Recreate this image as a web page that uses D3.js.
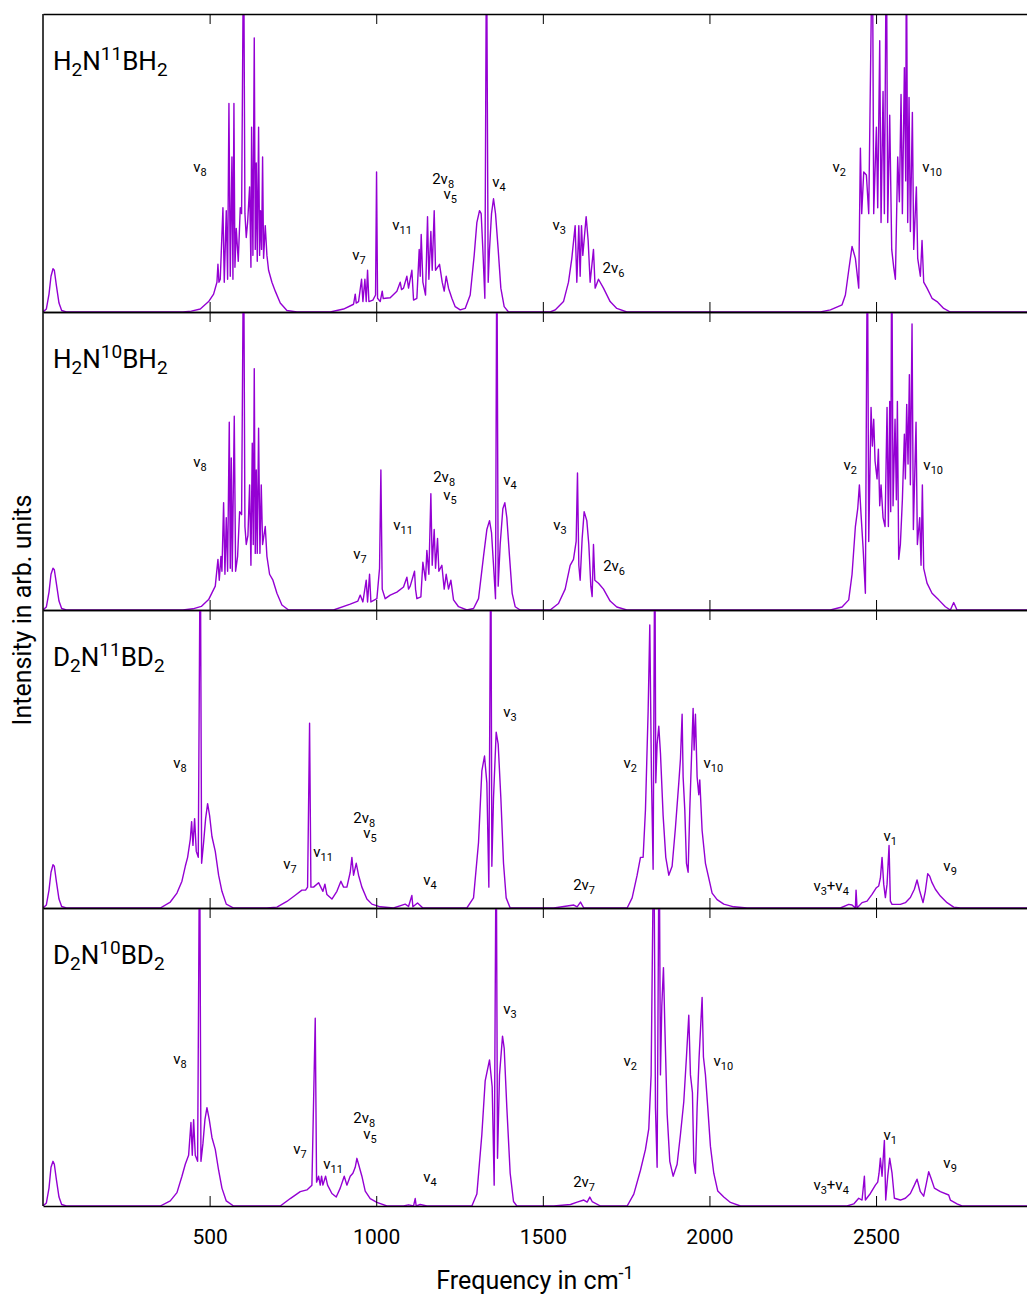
<!DOCTYPE html>
<html>
<head>
<meta charset="utf-8">
<script src="https://cdn.jsdelivr.net/npm/d3@7"></script>
<style>
  body { margin: 0; background: #fff; }
  svg { display: block; }
  text { font-family: Roboto, "DejaVu Sans", sans-serif; fill: #000; }
</style>
</head>
<body>
<svg id="chart" width="1027" height="1295"></svg>
<script>
// ---- data (frequency in cm^-1, intensity in arb. units, 1 = panel top) ----

const freqRange = [0, 2953];
const tickValues = [500, 1000, 1500, 2000, 2500];
const panelNames = ['H_2N^11BH_2', 'H_2N^10BH_2', 'D_2N^11BD_2', 'D_2N^10BD_2'];

const specH2N11BH2 = [
  [0,0],[10,0.01],[18,0.06],[24,0.12],[30,0.145],[34,0.14],[40,0.09],[48,0.03],[56,0.005],[70,0],
  [420,0],[445,0.003],[472,0.01],[497,0.035],[512,0.06],[522,0.10],[525,0.16],[528,0.10],[532,0.11],[540,0.35],
  [544,0.10],[550,0.34],[554,0.11],[558,0.70],[562,0.12],[567,0.52],[570,0.11],[573,0.70],[576,0.15],[580,0.28],
  [586,0.17],[592,0.35],[596,0.33],[602,1.3],[606,0.33],[610,0.25],[614,0.30],[620,0.42],[624,0.15],[626,0.62],
  [630,0.19],[634,0.92],[637,0.21],[640,0.50],[643,0.17],[647,0.62],[650,0.19],[653,0.34],[656,0.21],[659,0.52],
  [662,0.18],[667,0.29],[672,0.19],[677,0.14],[687,0.10],[697,0.07],[712,0.03],[732,0.005],[762,0],
  [862,0],[902,0.01],[932,0.026],[937,0.06],[940,0.03],[947,0.035],[956,0.11],[960,0.035],[966,0.11],[970,0.035],
  [974,0.14],[978,0.035],[990,0.04],[998,0.057],[1001,0.47],[1004,0.046],[1012,0.035],[1018,0.07],[1021,0.045],
  [1027,0.046],[1042,0.048],[1062,0.07],[1072,0.10],[1076,0.075],[1082,0.08],[1092,0.12],[1097,0.08],[1107,0.14],
  [1112,0.04],[1122,0.046],[1129,0.21],[1132,0.12],[1135,0.26],[1140,0.10],[1148,0.057],[1154,0.32],[1158,0.11],
  [1164,0.27],[1168,0.14],[1174,0.34],[1178,0.14],[1184,0.15],[1190,0.16],[1198,0.10],[1204,0.07],[1210,0.12],
  [1217,0.08],[1227,0.046],[1237,0.018],[1252,0.007],[1267,0.012],[1282,0.057],[1294,0.19],[1302,0.30],[1310,0.34],
  [1315,0.33],[1320,0.21],[1326,0.046],[1331,1.3],[1336,0.10],[1340,0.21],[1346,0.33],[1352,0.38],[1358,0.33],
  [1366,0.21],[1374,0.08],[1384,0.018],[1397,0],
  [1522,0],[1537,0.007],[1562,0.035],[1577,0.10],[1587,0.18],[1597,0.29],[1602,0.10],[1608,0.29],[1612,0.12],
  [1616,0.29],[1620,0.19],[1630,0.32],[1636,0.24],[1642,0.10],[1652,0.21],[1657,0.08],[1667,0.11],[1682,0.08],
  [1702,0.035],[1722,0.012],[1752,0],
  [2333,0],[2363,0.007],[2398,0.024],[2408,0.057],[2418,0.14],[2428,0.22],[2438,0.18],[2448,0.08],[2453,0.55],
  [2457,0.33],[2463,0.47],[2471,0.46],[2478,0.33],[2489,1.3],[2493,0.33],[2501,0.62],[2505,0.35],[2511,0.91],
  [2515,0.30],[2521,0.74],[2525,0.33],[2531,1.3],[2535,0.30],[2541,0.66],[2547,0.21],[2553,0.15],[2558,0.11],
  [2565,0.52],[2570,0.37],[2575,0.73],[2579,0.33],[2585,0.82],[2589,0.44],[2591,1.3],[2595,0.30],[2599,0.72],
  [2603,0.27],[2609,0.67],[2613,0.21],[2621,0.42],[2625,0.18],[2633,0.12],[2638,0.24],[2643,0.10],[2653,0.08],
  [2668,0.046],[2683,0.035],[2703,0.012],[2723,0],[2953,0]
];

const specH2N10BH2 = [
  [0,0],[10,0.01],[18,0.06],[24,0.12],[30,0.14],[34,0.135],[40,0.09],[48,0.03],[56,0.005],[70,0],
  [420,0],[450,0.004],[475,0.012],[497,0.035],[517,0.08],[525,0.17],[529,0.10],[534,0.18],[537,0.13],[542,0.36],
  [546,0.12],[550,0.31],[554,0.13],[559,0.63],[562,0.14],[565,0.51],[568,0.13],[574,0.65],[578,0.13],[584,0.18],
  [590,0.33],[596,0.32],[602,1.3],[606,0.28],[610,0.22],[615,0.25],[620,0.42],[624,0.15],[628,0.56],[631,0.22],
  [634,0.81],[637,0.19],[640,0.47],[643,0.19],[647,0.61],[651,0.19],[655,0.42],[659,0.22],[667,0.28],[672,0.18],
  [680,0.12],[690,0.10],[702,0.056],[717,0.017],[737,0],
  [872,0],[922,0.02],[945,0.03],[952,0.05],[960,0.027],[970,0.10],[974,0.027],[980,0.12],[984,0.027],[1002,0.038],
  [1010,0.14],[1014,0.47],[1018,0.07],[1027,0.038],[1042,0.05],[1062,0.06],[1082,0.077],[1092,0.11],[1097,0.07],
  [1102,0.08],[1115,0.13],[1118,0.07],[1122,0.038],[1134,0.044],[1140,0.16],[1148,0.10],[1152,0.20],[1158,0.12],
  [1164,0.39],[1168,0.15],[1174,0.27],[1178,0.14],[1184,0.24],[1188,0.13],[1197,0.15],[1204,0.07],[1210,0.12],
  [1217,0.07],[1224,0.10],[1232,0.034],[1247,0.011],[1272,0],
  [1292,0.005],[1307,0.038],[1322,0.18],[1332,0.27],[1340,0.30],[1346,0.26],[1352,0.15],[1358,0.038],[1362,1.3],
  [1366,0.08],[1372,0.22],[1380,0.34],[1386,0.36],[1392,0.31],[1400,0.18],[1408,0.056],[1417,0.011],[1432,0],
  [1522,0],[1547,0.022],[1567,0.07],[1582,0.15],[1592,0.17],[1600,0.23],[1604,0.46],[1608,0.15],[1612,0.10],
  [1618,0.24],[1624,0.33],[1632,0.30],[1638,0.22],[1644,0.08],[1648,0.045],[1652,0.22],[1656,0.10],[1667,0.09],
  [1682,0.07],[1702,0.03],[1722,0.01],[1752,0],
  [2363,0],[2398,0.01],[2418,0.034],[2428,0.12],[2438,0.28],[2445,0.34],[2450,0.42],[2455,0.32],[2461,0.21],
  [2468,0.056],[2474,1.3],[2478,0.23],[2485,0.68],[2489,0.55],[2493,0.64],[2497,0.50],[2503,0.44],[2507,0.54],
  [2511,0.35],[2515,0.42],[2521,0.31],[2527,0.28],[2533,0.68],[2537,0.28],[2541,0.70],[2544,0.33],[2547,1.3],
  [2551,0.35],[2557,0.64],[2561,0.37],[2564,0.70],[2568,0.17],[2573,0.22],[2579,0.37],[2585,0.59],[2588,0.44],
  [2592,0.69],[2596,0.49],[2600,0.79],[2603,0.42],[2608,0.96],[2612,0.27],[2620,0.63],[2624,0.22],[2631,0.31],
  [2635,0.15],[2639,0.42],[2643,0.14],[2653,0.09],[2668,0.056],[2688,0.034],[2708,0.011],[2723,0],[2733,0.025],
  [2743,0],[2953,0]
];

const specD2N11BD2 = [
  [0,0],[10,0.01],[18,0.06],[24,0.12],[30,0.145],[34,0.14],[40,0.09],[48,0.03],[56,0.005],[70,0],
  [352,0],[382,0.02],[402,0.05],[417,0.09],[427,0.14],[434,0.17],[442,0.23],[446,0.29],[450,0.21],[455,0.30],
  [460,0.19],[466,0.17],[472,1.3],[476,0.15],[482,0.22],[488,0.30],[494,0.35],[500,0.31],[507,0.24],[517,0.19],
  [527,0.11],[537,0.056],[550,0.013],[572,0],
  [672,0],[702,0.003],[732,0.022],[757,0.043],[777,0.06],[788,0.06],[794,0.07],[800,0.62],[804,0.07],[812,0.07],
  [827,0.085],[840,0.056],[846,0.08],[852,0.045],[867,0.03],[882,0.056],[894,0.09],[902,0.07],[912,0.07],
  [922,0.12],[927,0.17],[932,0.11],[940,0.15],[947,0.11],[957,0.07],[972,0.03],[987,0.013],[1012,0.004],[1052,0],
  [1087,0.013],[1097,0.005],[1107,0.042],[1110,0.004],[1124,0.017],[1140,0],
  [1272,0],[1292,0.034],[1307,0.22],[1317,0.46],[1325,0.51],[1332,0.42],[1338,0.07],[1344,1.3],[1347,0.14],
  [1352,0.37],[1360,0.59],[1366,0.55],[1374,0.37],[1382,0.15],[1390,0.034],[1402,0],
  [1533,0],[1563,0.005],[1593,0.01],[1603,0.004],[1613,0.02],[1623,0],
  [1753,0],[1768,0.034],[1783,0.11],[1793,0.17],[1801,0.17],[1808,0.33],[1816,0.66],[1821,0.95],[1826,0.44],
  [1831,0.13],[1836,1.3],[1839,0.42],[1843,0.55],[1848,0.61],[1853,0.52],[1861,0.31],[1869,0.17],[1878,0.11],
  [1888,0.14],[1898,0.27],[1908,0.42],[1913,0.50],[1918,0.65],[1921,0.44],[1926,0.33],[1931,0.15],[1936,0.12],
  [1941,0.33],[1946,0.50],[1951,0.67],[1954,0.53],[1958,0.65],[1963,0.44],[1968,0.38],[1971,0.43],[1978,0.26],
  [1988,0.15],[1998,0.10],[2008,0.05],[2023,0.028],[2043,0.013],[2073,0.004],[2113,0],
  [2393,0],[2418,0.012],[2428,0.01],[2438,0],[2440,0.06],[2443,0],[2458,0.018],[2473,0.023],[2488,0.046],
  [2501,0.068],[2508,0.074],[2513,0.10],[2518,0.17],[2523,0.08],[2528,0.035],[2533,0.08],[2539,0.21],[2543,0.023],
  [2548,0.012],[2573,0.012],[2588,0.018],[2603,0.035],[2615,0.063],[2623,0.094],[2631,0.057],[2641,0.018],
  [2648,0.057],[2655,0.115],[2661,0.107],[2668,0.085],[2678,0.063],[2693,0.04],[2713,0.018],[2733,0.003],
  [2753,0],[2953,0]
];

const specD2N10BD2 = [
  [0,0],[10,0.01],[18,0.06],[24,0.13],[30,0.15],[34,0.14],[40,0.09],[48,0.03],[56,0.005],[70,0],
  [352,0],[382,0.017],[402,0.045],[417,0.10],[427,0.14],[437,0.17],[444,0.28],[448,0.17],[452,0.29],[457,0.17],
  [464,0.15],[470,1.3],[474,0.15],[480,0.21],[486,0.29],[492,0.33],[499,0.29],[507,0.23],[517,0.19],[527,0.12],
  [537,0.06],[550,0.017],[572,0],
  [712,0],[742,0.025],[772,0.048],[792,0.054],[807,0.07],[817,0.63],[821,0.08],[827,0.10],[832,0.07],[836,0.10],
  [840,0.07],[848,0.10],[854,0.07],[867,0.042],[880,0.03],[892,0.06],[904,0.10],[912,0.07],[922,0.10],[930,0.11],
  [937,0.13],[942,0.16],[947,0.14],[957,0.10],[967,0.05],[982,0.025],[1002,0.012],[1032,0],[1082,0],[1097,0.004],
  [1112,0],[1117,0.025],[1120,0],[1132,0.005],[1152,0],
  [1287,0],[1302,0.04],[1317,0.24],[1327,0.42],[1340,0.49],[1348,0.40],[1354,0.07],[1360,1.3],[1364,0.16],
  [1370,0.44],[1379,0.57],[1384,0.53],[1392,0.33],[1402,0.11],[1412,0.015],[1422,0],
  [1533,0],[1583,0.005],[1603,0.013],[1623,0.02],[1633,0.013],[1641,0.03],[1648,0.015],[1673,0],
  [1753,0],[1773,0.04],[1793,0.12],[1808,0.19],[1818,0.26],[1825,0.44],[1833,1.3],[1838,0.33],[1843,0.13],
  [1849,1.3],[1853,0.44],[1857,0.67],[1862,0.80],[1866,0.61],[1873,0.31],[1881,0.15],[1891,0.10],[1903,0.14],
  [1913,0.24],[1923,0.35],[1931,0.50],[1938,0.64],[1943,0.44],[1949,0.38],[1953,0.15],[1958,0.11],[1963,0.33],
  [1969,0.50],[1978,0.70],[1982,0.50],[1988,0.44],[1995,0.33],[2003,0.20],[2013,0.11],[2025,0.05],[2043,0.03],
  [2063,0.012],[2093,0],
  [2413,0],[2433,0.007],[2448,0.026],[2458,0.02],[2465,0.10],[2468,0.02],[2483,0.042],[2498,0.07],[2505,0.08],
  [2509,0.11],[2513,0.16],[2518,0.10],[2525,0.22],[2529,0.02],[2535,0.10],[2541,0.16],[2548,0.11],[2555,0.026],
  [2573,0.02],[2588,0.026],[2603,0.042],[2615,0.07],[2623,0.09],[2633,0.048],[2643,0.033],[2651,0.076],
  [2658,0.115],[2665,0.093],[2675,0.06],[2693,0.048],[2718,0.037],[2723,0.02],[2743,0.007],[2758,0],[2953,0]
];

// band labels: [text, frequency, intensity] ("_n" = subscript)
const labelsH2N11BH2 = [
  ['v_8', 451, 0.47], ['v_7', 928, 0.175], ['v_11', 1048, 0.275], ['2v_8', 1168, 0.43], ['v_5', 1202, 0.38],
  ['v_4', 1348, 0.42], ['v_3', 1529, 0.275], ['2v_6', 1679, 0.13], ['v_2', 2369, 0.47], ['v_10', 2639, 0.47]
];
const labelsH2N10BH2 = [
  ['v_8', 451, 0.48], ['v_7', 931, 0.17], ['v_11', 1051, 0.27], ['2v_8', 1171, 0.43], ['v_5', 1201, 0.37],
  ['v_4', 1381, 0.42], ['v_3', 1531, 0.27], ['2v_6', 1681, 0.13], ['v_2', 2402, 0.47], ['v_10', 2642, 0.47]
];
const labelsD2N11BD2 = [
  ['v_8', 391, 0.47], ['v_7', 721, 0.13], ['v_11', 811, 0.17], ['2v_8', 931, 0.285], ['v_5', 961, 0.235],
  ['v_4', 1141, 0.077], ['v_3', 1381, 0.64], ['2v_7', 1591, 0.06], ['v_2', 1742, 0.47], ['v_10', 1982, 0.47],
  ['v_3+v_4', 2312, 0.057], ['v_1', 2522, 0.225], ['v_9', 2702, 0.124]
];
const labelsD2N10BD2 = [
  ['v_8', 391, 0.476], ['v_7', 751, 0.174], ['v_11', 841, 0.124], ['2v_8', 931, 0.28], ['v_5', 961, 0.225],
  ['v_4', 1141, 0.08], ['v_3', 1381, 0.645], ['2v_7', 1591, 0.064], ['v_2', 1742, 0.47], ['v_10', 2012, 0.47],
  ['v_3+v_4', 2312, 0.054], ['v_1', 2522, 0.22], ['v_9', 2702, 0.128]
];

const spectra = [specH2N11BH2, specH2N10BH2, specD2N11BD2, specD2N10BD2];
const bandLabels = [labelsH2N11BH2, labelsH2N10BH2, labelsD2N11BD2, labelsD2N10BD2];

// ---- layout ----
const width = 1027, height = 1295;
const margin = { top: 14, right: 0, bottom: 89, left: 43 };
const plotH = height - margin.top - margin.bottom;
const panelH = plotH / spectra.length;
const lineColor = '#9400d3';

const svg = d3.select('#chart');

const x = d3.scaleLinear()
  .domain(freqRange)
  .range([margin.left, width - margin.right]);

// split "H_2N^11BH_2" into plain / sub / sup pieces
function parseMarkup(str) {
  const parts = [];
  const re = /([_^])(\d+)|([^_^]+)/g;
  let m;
  while ((m = re.exec(str)) !== null) {
    if (m[3]) parts.push({ t: m[3], k: 'n' });
    else parts.push({ t: m[2], k: m[1] === '_' ? 'sub' : 'sup' });
  }
  return parts;
}

function writeRich(textSel, str, base, small, subShift, supShift) {
  let offset = 0;
  parseMarkup(str).forEach(p => {
    const target = p.k === 'sub' ? subShift : (p.k === 'sup' ? -supShift : 0);
    textSel.append('tspan')
      .attr('dy', target - offset)
      .style('font-size', (p.k === 'n' ? base : small) + 'px')
      .text(p.t);
    offset = target;
  });
}

const defs = svg.append('defs');

spectra.forEach((spec, i) => {
  const top = margin.top + i * panelH;
  const bottom = top + panelH;

  const y = d3.scaleLinear().domain([0, 1]).range([bottom, top]);

  defs.append('clipPath')
    .attr('id', `clip-${i}`)
    .append('rect')
    .attr('x', margin.left)
    .attr('y', top)
    .attr('width', width - margin.left)
    .attr('height', panelH);

  const g = svg.append('g').attr('class', `panel panel-${i}`);

  // spectrum trace
  const line = d3.line()
    .x(d => x(d[0]))
    .y(d => y(d[1]));

  g.append('path')
    .datum(spec)
    .attr('clip-path', `url(#clip-${i})`)
    .attr('d', line)
    .style('fill', 'none')
    .style('stroke', lineColor)
    .style('stroke-width', '1.4px')
    .style('stroke-linejoin', 'round');

  // bottom axis (ticks inward)
  const isLast = i === spectra.length - 1;
  const axB = g.append('g')
    .attr('transform', `translate(0,${bottom})`)
    .call(d3.axisBottom(x)
      .tickValues(tickValues)
      .tickSizeInner(-10)
      .tickSizeOuter(0)
      .tickPadding(23)
      .tickFormat(isLast ? d3.format('d') : () => ''));

  // top axis (ticks inward)
  const axT = g.append('g')
    .attr('transform', `translate(0,${top})`)
    .call(d3.axisTop(x)
      .tickValues(tickValues)
      .tickSizeInner(-10)
      .tickSizeOuter(0)
      .tickFormat(() => ''));

  [axB, axT].forEach(ax => {
    ax.select('.domain').style('stroke', '#000').style('stroke-width', '1.5px');
    ax.selectAll('.tick line').style('stroke', '#000').style('stroke-width', '1px');
    ax.selectAll('.tick text')
      .style('font-family', 'Roboto, sans-serif')
      .style('font-size', '21px')
      .style('fill', '#000');
  });

  // left border
  g.append('line')
    .attr('x1', margin.left).attr('x2', margin.left)
    .attr('y1', top).attr('y2', bottom)
    .style('stroke', '#000')
    .style('stroke-width', '1.5px');

  // molecule name
  const title = g.append('text')
    .attr('x', margin.left + 10)
    .attr('y', top + 56);
  writeRich(title, panelNames[i], 26, 19, 6, 10);

  // band labels
  bandLabels[i].forEach(([txt, f, inten]) => {
    const t = g.append('text')
      .attr('x', x(f))
      .attr('y', y(inten));
    writeRich(t, txt, 15, 11, 4, 6);
  });
});

// axis titles
const xTitle = svg.append('text')
  .attr('x', (margin.left + width - margin.right) / 2)
  .attr('y', 1289)
  .attr('text-anchor', 'middle');
xTitle.append('tspan').style('font-size', '25px').text('Frequency in cm');
xTitle.append('tspan').attr('dy', -10).style('font-size', '18px').text('-1');

svg.append('text')
  .attr('transform', `translate(31,${margin.top + plotH / 2}) rotate(-90)`)
  .attr('text-anchor', 'middle')
  .style('font-size', '25px')
  .text('Intensity in arb. units');
</script>
</body>
</html>
